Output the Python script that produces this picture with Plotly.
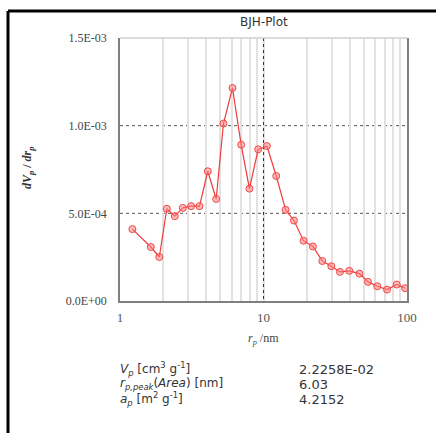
import plotly.graph_objects as go

# BJH pore-size distribution: pore radius (nm) vs dVp/drp
pore_radius_nm = [1.22, 1.64, 1.88, 2.12, 2.41, 2.74, 3.13, 3.58, 4.09, 4.68,
                  5.26, 6.08, 6.99, 7.98, 9.18, 10.56, 12.27, 14.26, 16.3, 19.0,
                  22.1, 25.7, 29.7, 34.1, 39.6, 46.6, 53.5, 62.1, 72.6, 84.8, 97.0]
dvp_drp = [4.10e-4, 3.08e-4, 2.51e-4, 5.26e-4, 4.84e-4, 5.31e-4, 5.41e-4, 5.41e-4,
           7.40e-4, 5.82e-4, 1.012e-3, 1.215e-3, 8.91e-4, 6.41e-4, 8.65e-4, 8.84e-4,
           7.13e-4, 5.20e-4, 4.59e-4, 3.44e-4, 3.11e-4, 2.28e-4, 1.98e-4, 1.66e-4,
           1.72e-4, 1.56e-4, 1.09e-4, 8.4e-5, 6.5e-5, 9.4e-5, 7.3e-5]

y_ticks = [0.0, 5.0e-4, 1.0e-3, 1.5e-3]
x_ticks = [1, 10, 100]

summary_labels = ["<i>V<sub>p</sub></i> [cm<sup>3</sup> g<sup>-1</sup>]",
                  "<i>r<sub>p,peak</sub></i>(<i>Area</i>) [nm]",
                  "<i>a<sub>p</sub></i> [m<sup>2</sup> g<sup>-1</sup>]"]
summary_values = ["2.2258E-02", "6.03", "4.2152"]

W, H = 436, 433
L, R, T, B = 120, 29, 37.5, 131.5
plot_h = H - T - B
plot_w = W - L - R


def px_to_paper_x(px):
    return (px - L) / plot_w


def px_to_paper_y(py):
    return (H - B - py) / plot_h


fig = go.Figure()
fig.add_trace(go.Scatter(
    x=pore_radius_nm, y=dvp_drp, mode="lines+markers",
    line=dict(color="#f03a3a", width=1.2),
    marker=dict(symbol="circle", size=7, color="rgba(255,130,130,0.55)",
                line=dict(color="#f04848", width=1)),
    showlegend=False, cliponaxis=False,
))

serif = "Liberation Serif"
sans = "DejaVu Sans"

fig.update_layout(
    width=W, height=H, margin=dict(l=L, r=R, t=T, b=B),
    paper_bgcolor="white", plot_bgcolor="white",
    xaxis=dict(
        type="log", range=[0, 2], tickvals=x_ticks,
        ticktext=[str(v) for v in x_ticks],
        tickfont=dict(family=serif, size=13, color="#555"),
        showgrid=True, gridcolor="#333", griddash="dot", gridwidth=1,
        minor=dict(showgrid=True, dtick="D1", gridcolor="#e2e2e2", gridwidth=1.5,
                   griddash="solid", ticks=""),
        showline=True, linecolor="#808080", linewidth=1.5, ticks="",
        ticklabelstandoff=4, zeroline=False,
    ),
    yaxis=dict(
        range=[0, 1.5e-3], tickvals=y_ticks,
        ticktext=[f"{v:.1E}" for v in y_ticks],
        tickfont=dict(family=serif, size=12, color="#444"),
        showgrid=False, showline=True, linecolor="#808080", linewidth=1.5,
        mirror=True, ticks="", ticklabelstandoff=9, zeroline=False,
    ),
)

# horizontal dashed grid lines at interior y ticks
for v in y_ticks[1:-1]:
    fig.add_shape(type="line", xref="paper", yref="y", x0=0, x1=1, y0=v, y1=v,
                  line=dict(color="#555", width=1, dash="dot"), layer="below")

# light top edge of the plotting area
fig.add_shape(type="line", xref="paper", yref="paper", x0=0, x1=1, y0=1, y1=1,
              line=dict(color="#d0d0d0", width=1.5))

# black outer frame (left and top)
fig.add_shape(type="line", xref="paper", yref="paper",
              x0=px_to_paper_x(8), x1=px_to_paper_x(8),
              y0=px_to_paper_y(10.5), y1=px_to_paper_y(440),
              line=dict(color="black", width=3))
fig.add_shape(type="line", xref="paper", yref="paper",
              x0=px_to_paper_x(8), x1=px_to_paper_x(445),
              y0=px_to_paper_y(10.5), y1=px_to_paper_y(10.5),
              line=dict(color="black", width=3))

annotations = [
    dict(text="BJH-Plot", x=0.5, y=px_to_paper_y(21), xref="paper", yref="paper",
         showarrow=False, font=dict(family=sans, size=12, color="#333"),
         xanchor="center", yanchor="middle"),
    dict(text="<b><i>dV<sub>p</sub></i> / <i>dr<sub>p</sub></i></b>",
         x=px_to_paper_x(28), y=px_to_paper_y(168), xref="paper", yref="paper",
         showarrow=False, textangle=-90, font=dict(family=serif, size=12, color="#333"),
         xanchor="center", yanchor="middle"),
    dict(text="<i>r<sub>p</sub></i> /nm", x=0.5, y=px_to_paper_y(340),
         xref="paper", yref="paper", showarrow=False,
         font=dict(family=serif, size=12, color="#444"),
         xanchor="center", yanchor="middle"),
]

row_y = [370, 385, 400]
for lab, val, py in zip(summary_labels, summary_values, row_y):
    annotations.append(dict(text=lab, x=px_to_paper_x(118), y=px_to_paper_y(py),
                            xref="paper", yref="paper", showarrow=False,
                            font=dict(family=sans, size=12, color="#333"),
                            xanchor="left", yanchor="middle"))
    annotations.append(dict(text=val, x=px_to_paper_x(297), y=px_to_paper_y(py),
                            xref="paper", yref="paper", showarrow=False,
                            font=dict(family=sans, size=13, color="#333"),
                            xanchor="left", yanchor="middle"))

fig.update_layout(annotations=annotations)
fig.write_html("out.html")
